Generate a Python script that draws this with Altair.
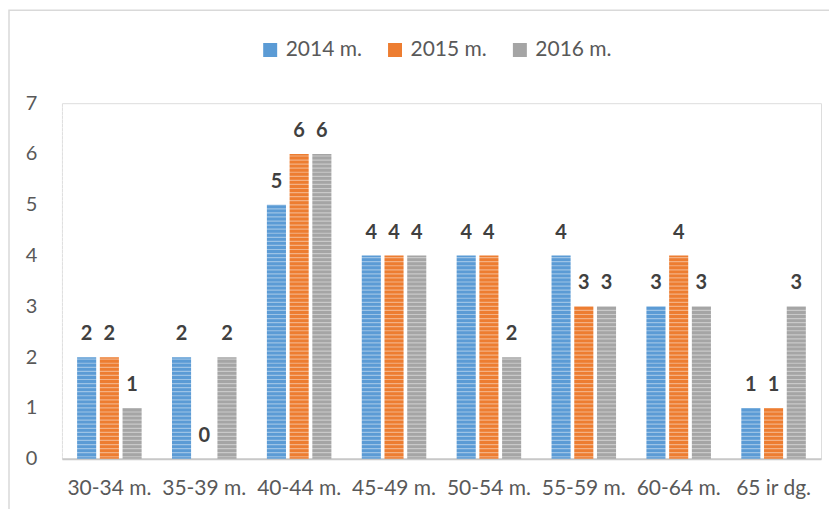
import altair as alt
import pandas as pd
import numpy as np

categories = ["30-34 m.", "35-39 m.", "40-44 m.", "45-49 m.", "50-54 m.", "55-59 m.", "60-64 m.", "65 ir dg."]
series = ["2014 m.", "2015 m.", "2016 m."]
v2014 = [2, 2, 5, 4, 4, 4, 3, 1]
v2015 = [2, 0, 6, 4, 4, 3, 4, 1]
v2016 = [1, 2, 6, 4, 2, 3, 3, 3]
colors = ["#5B9BD5", "#ED7D31", "#A5A5A5"]

rows = []
for s, vals in zip(series, [v2014, v2015, v2016]):
    for c, v in zip(categories, vals):
        rows.append({"cat": c, "series": s, "value": v})
df = pd.DataFrame(rows)

# fine horizontal texture lines (decorative stripes on the bars)
stripes = pd.DataFrame({"y": np.arange(0.04, 7.0, 0.08)})

FONT = "Lato"
W, H = 760, 356

x_enc = alt.X("cat:N", sort=categories, title=None,
              scale=alt.Scale(paddingInner=0.32, paddingOuter=0.16),
              axis=alt.Axis(labelAngle=0, labelFontSize=21, labelColor="#595959",
                            labelFont=FONT, ticks=False, domainColor="#C8C8C8",
                            domainWidth=2, labelPadding=19))
y_enc = alt.Y("value:Q", title=None,
              scale=alt.Scale(domain=[0, 7], nice=False),
              axis=alt.Axis(values=list(range(8)), labelFontSize=20, labelColor="#595959",
                            labelFont=FONT, ticks=False, domain=False, grid=False,
                            labelPadding=25))
xoff = alt.XOffset("series:N", sort=series, scale=alt.Scale(paddingInner=0.16, paddingOuter=0))

bars = alt.Chart(df).mark_bar().encode(
    x=x_enc,
    y=y_enc,
    xOffset=xoff,
    color=alt.Color("series:N", sort=series,
                    scale=alt.Scale(domain=series, range=colors),
                    legend=alt.Legend(title=None, orient="none", direction="horizontal",
                                      legendX=198, legendY=-64, symbolType="square",
                                      symbolSize=196, symbolStrokeWidth=0,
                                      labelFontSize=21, labelColor="#595959",
                                      labelFont=FONT, labelOffset=5, columnPadding=22)),
)

stripe_layer = alt.Chart(stripes).mark_rule(color="white", opacity=0.4, strokeWidth=1.2).encode(
    y=alt.Y("y:Q", scale=alt.Scale(domain=[0, 7], nice=False)),
    x=alt.value(0),
    x2=alt.value(W),
)

labels = alt.Chart(df).mark_text(fontSize=20, fontWeight="bold", color="#404040",
                                 font=FONT, baseline="alphabetic", dy=-17).encode(
    x=alt.X("cat:N", sort=categories),
    y=alt.Y("value:Q"),
    xOffset=alt.XOffset("series:N", sort=series),
    text=alt.Text("value:Q"),
)

frame = alt.Chart(pd.DataFrame({"a": [0]})).mark_rect(
    fill="transparent", stroke="#D9D9D9", strokeWidth=1.5).encode(
    x=alt.value(-53), y=alt.value(-93), x2=alt.value(W + 60), y2=alt.value(H + 100)
)

chart = alt.layer(bars, stripe_layer, labels, frame).resolve_scale(y="shared").properties(
    width=W, height=H,
    autosize=alt.AutoSizeParams(type="none"),
    padding={"left": 54, "top": 95, "right": 8, "bottom": 50},
).configure_view(stroke=None).configure(background="white")

chart.save("out.html", embed_options={"renderer": "svg", "actions": False})
